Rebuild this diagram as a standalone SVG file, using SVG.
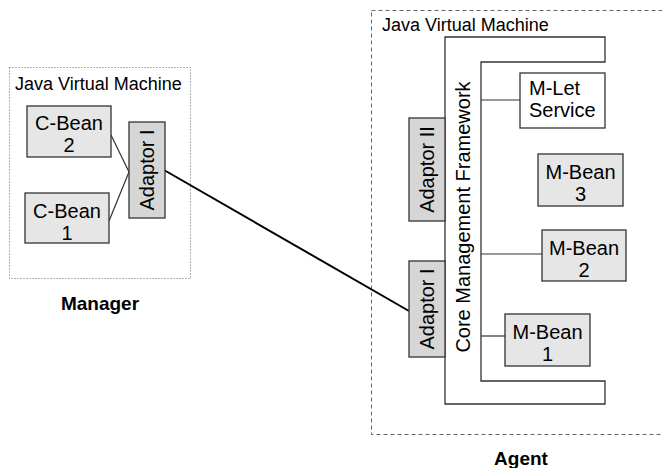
<svg xmlns="http://www.w3.org/2000/svg" width="662" height="468" viewBox="0 0 662 468">
<style>
text{font-family:"Liberation Sans",Arial,sans-serif;fill:#000}
.lbl{font-size:20px}
.jvm{font-size:18px}
.ttl{font-size:19px;font-weight:bold}
.bean{fill:#e6e6e6;stroke:#333;stroke-width:1.3}
.adp{fill:#d6d6d6;stroke:#333;stroke-width:1.3}
.wht{fill:#fff;stroke:#333;stroke-width:1.3}
.ln{stroke:#333;stroke-width:1.2;fill:none}
</style>
<rect width="662" height="468" fill="#fff"/>
<g id="manager-jvm">
<rect x="9.5" y="67.5" width="181" height="211" fill="none" stroke="#666" stroke-width="1" stroke-dasharray="1,2"/>
<text class="jvm" x="15" y="90">Java Virtual Machine</text>
<text class="ttl" x="100" y="310" text-anchor="middle">Manager</text>
</g>
<g id="agent-jvm">
<rect x="371.5" y="10.5" width="300" height="424" fill="none" stroke="#666" stroke-width="1" stroke-dasharray="4,3"/>
<text class="jvm" x="382" y="31">Java Virtual Machine</text>
<text class="ttl" x="521" y="465" text-anchor="middle">Agent</text>
</g>
<g id="connectors">
<line class="ln" x1="111" y1="135" x2="129" y2="172"/>
<line class="ln" x1="109" y1="221" x2="129" y2="172"/>
<line x1="164" y1="170" x2="409" y2="311" stroke="#000" stroke-width="2"/>
<line class="ln" x1="481" y1="100" x2="520" y2="100"/>
<line class="ln" x1="481" y1="254" x2="542" y2="254"/>
<line class="ln" x1="481" y1="336" x2="505" y2="336"/>
</g>
<g id="cbean2">
<rect class="bean" x="27" y="106" width="84" height="51"/>
<text class="lbl" x="69" y="130" text-anchor="middle">C-Bean</text>
<text class="lbl" x="69" y="152" text-anchor="middle">2</text>
</g>
<g id="cbean1">
<rect class="bean" x="25" y="193" width="84" height="50"/>
<text class="lbl" x="67" y="218" text-anchor="middle">C-Bean</text>
<text class="lbl" x="67" y="240" text-anchor="middle">1</text>
</g>
<g id="manager-adaptor1">
<rect class="adp" x="129" y="122" width="36" height="96"/>
<text class="lbl" transform="translate(147,170) rotate(-90)" x="0" y="7" text-anchor="middle">Adaptor I</text>
</g>
<g id="core-framework">
<path class="wht" d="M445,37 H605 V62 H481 V381 H605 V404 H445 Z"/>
<text class="lbl" transform="translate(463,217) rotate(-90)" x="0" y="7" text-anchor="middle">Core Management Framework</text>
</g>
<g id="agent-adaptor2">
<rect class="adp" x="409" y="118" width="36" height="103"/>
<text class="lbl" transform="translate(427,169.5) rotate(-90)" x="0" y="7" text-anchor="middle">Adaptor II</text>
</g>
<g id="agent-adaptor1">
<rect class="adp" x="409" y="261" width="36" height="96"/>
<text class="lbl" transform="translate(427,309) rotate(-90)" x="0" y="7" text-anchor="middle">Adaptor I</text>
</g>
<g id="mlet">
<rect class="wht" x="520" y="73" width="85" height="55"/>
<text class="lbl" x="529" y="95">M-Let</text>
<text class="lbl" x="529" y="117">Service</text>
</g>
<g id="mbean3">
<rect class="bean" x="538" y="154" width="85" height="52"/>
<text class="lbl" x="580.5" y="179" text-anchor="middle">M-Bean</text>
<text class="lbl" x="580.5" y="201" text-anchor="middle">3</text>
</g>
<g id="mbean2">
<rect class="bean" x="542" y="230" width="84" height="51"/>
<text class="lbl" x="584" y="255" text-anchor="middle">M-Bean</text>
<text class="lbl" x="584" y="277" text-anchor="middle">2</text>
</g>
<g id="mbean1">
<rect class="bean" x="505" y="314" width="85" height="52"/>
<text class="lbl" x="547.5" y="339" text-anchor="middle">M-Bean</text>
<text class="lbl" x="547.5" y="361" text-anchor="middle">1</text>
</g>
</svg>
